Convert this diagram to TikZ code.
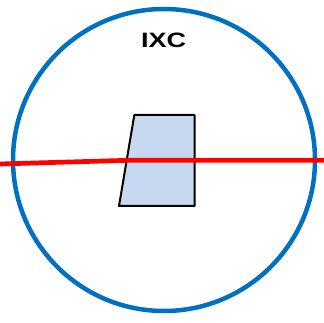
\documentclass[tikz,border=0pt]{standalone}
\usepackage{fontspec}
\setmainfont{Liberation Sans}
\definecolor{ringblue}{RGB}{0,112,192}
\definecolor{boxfill}{RGB}{198,217,240}
\definecolor{linered}{RGB}{255,0,0}
\tikzset{
  ring/.style={draw=ringblue, line width=4.5pt},
  shapebox/.style={draw=black, fill=boxfill, line width=2pt, line join=round},
  redline/.style={draw=linered, line width=4.7pt},
  title/.style={font=\bfseries\fontsize{20.8}{22}\selectfont, inner sep=0pt}
}
\begin{document}
\begin{tikzpicture}[x=1pt, y=-1pt]
\useasboundingbox (0,0) rectangle (324,323);
\node[ring, circle, minimum size=302pt, inner sep=0pt] (ring) at (164,160) {};
\path[shapebox] (134.3,115) -- (194.5,115) -- (194.5,206) -- (119,206) -- cycle;
\node[title, anchor=base] (lbl) at (163.7,47.3) {\scalebox{1.3}[1]{IXC}};
\coordinate (lstart) at (0,164);
\coordinate (bend) at (128,160.3);
\coordinate (lend) at (324,160.3);
\draw[redline] (lstart) -- (bend) -- (lend);
\end{tikzpicture}
\end{document}
